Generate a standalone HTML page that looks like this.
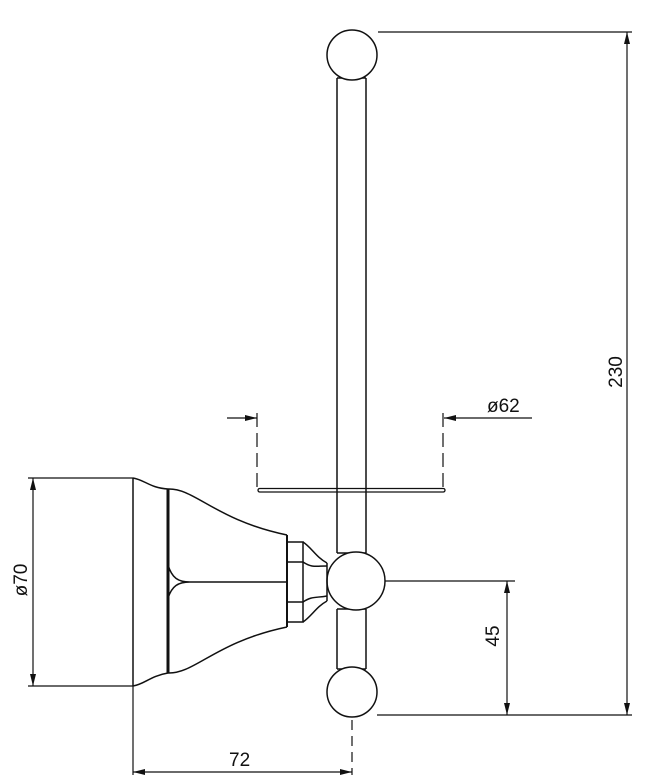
<!DOCTYPE html>
<html><head><style>html,body{margin:0;padding:0;background:#fff}svg{display:block}</style></head><body>
<svg width="653" height="779" viewBox="0 0 653 779" xmlns="http://www.w3.org/2000/svg" font-family="Liberation Sans, sans-serif" fill="none" stroke="#111" stroke-width="1.5">
<!-- rod -->
<line x1="337" y1="78" x2="337" y2="553"/>
<line x1="366" y1="78" x2="366" y2="553"/>
<line x1="337" y1="78" x2="366" y2="78"/>
<line x1="337" y1="609" x2="337" y2="669"/>
<line x1="366" y1="609" x2="366" y2="669"/>
<line x1="337" y1="669" x2="366" y2="669"/>
<line x1="337" y1="553" x2="366" y2="553"/>
<line x1="337" y1="609" x2="366" y2="609"/>
<circle cx="352" cy="55" r="25" fill="#fff"/>
<circle cx="356" cy="581" r="29" fill="#fff"/>
<circle cx="352" cy="692" r="25" fill="#fff"/>
<!-- plate -->
<rect x="258" y="488.5" width="187" height="3.5" rx="1.7" stroke-width="1.3"/>
<!-- backplate -->
<path d="M133 478 L133 686"/>
<path d="M133 478 C145 480 150 488 168 489 M133 686 C145 684 150 676 168 673"/>
<line x1="168" y1="489" x2="168" y2="673" stroke-width="3"/>
<path d="M168 489 C195 488 215 520 287 535 M168 673 C195 674 215 642 287 627"/>
<path d="M168 565 C172 578 178 582 190 582 L287 582 M168 598 C172 586 178 582 190 582"/>
<line x1="287" y1="535" x2="287" y2="627" stroke-width="2"/>
<path d="M287 542 L303 542 L303 622 L287 622 M287 562 L303 562 M287 602 L303 602"/>
<path d="M303 542 C312 548 316 557 327 563 M303 562 C312 568 316 566 327 566 M303 622 C312 616 316 607 327 601 M303 602 C312 596 316 598 327 596"/>
<line x1="327" y1="563" x2="327" y2="601"/>
<!-- dims -->
<g stroke-width="1.2">
<line x1="378" y1="32" x2="632" y2="32"/>
<line x1="627" y1="32" x2="627" y2="715"/>
<line x1="377" y1="715" x2="632" y2="715"/>
<line x1="385" y1="581" x2="515" y2="581"/>
<line x1="507" y1="581" x2="507" y2="715"/>
<line x1="28" y1="478" x2="133" y2="478"/>
<line x1="28" y1="686" x2="133" y2="686"/>
<line x1="33" y1="478" x2="33" y2="686"/>
<line x1="133" y1="686" x2="133" y2="775"/>
<line x1="352" y1="720" x2="352" y2="775" stroke-dasharray="10 6"/>
<line x1="133" y1="772" x2="352" y2="772"/>
<line x1="227" y1="418" x2="257" y2="418"/>
<line x1="444" y1="418" x2="532" y2="418"/>
<line x1="257" y1="413" x2="257" y2="488" stroke-dasharray="14 6"/>
<line x1="443" y1="413" x2="443" y2="488" stroke-dasharray="14 6"/>
</g>
<g fill="#111" stroke="none">
<path d="M627 32 l-3 12 h6z M627 715 l-3 -12 h6z M507 581 l-3 12 h6z M507 715 l-3 -12 h6z M33 478 l-3 12 h6z M33 686 l-3 -12 h6z M133 772 l12 -3 v6z M352 772 l-12 -3 v6z M257 418 l-12 -3 v6z M444 418 l12 -3 v6z"/>
</g>
<g fill="#111" stroke="none" font-size="19">
<text x="487" y="412">ø62</text>
<text x="229" y="766">72</text>
<text transform="translate(622,372) rotate(-90)" text-anchor="middle">230</text>
<text transform="translate(499,636) rotate(-90)" text-anchor="middle">45</text>
<text transform="translate(27,580) rotate(-90)" text-anchor="middle">ø70</text>
</g>
</svg>
</body></html>
